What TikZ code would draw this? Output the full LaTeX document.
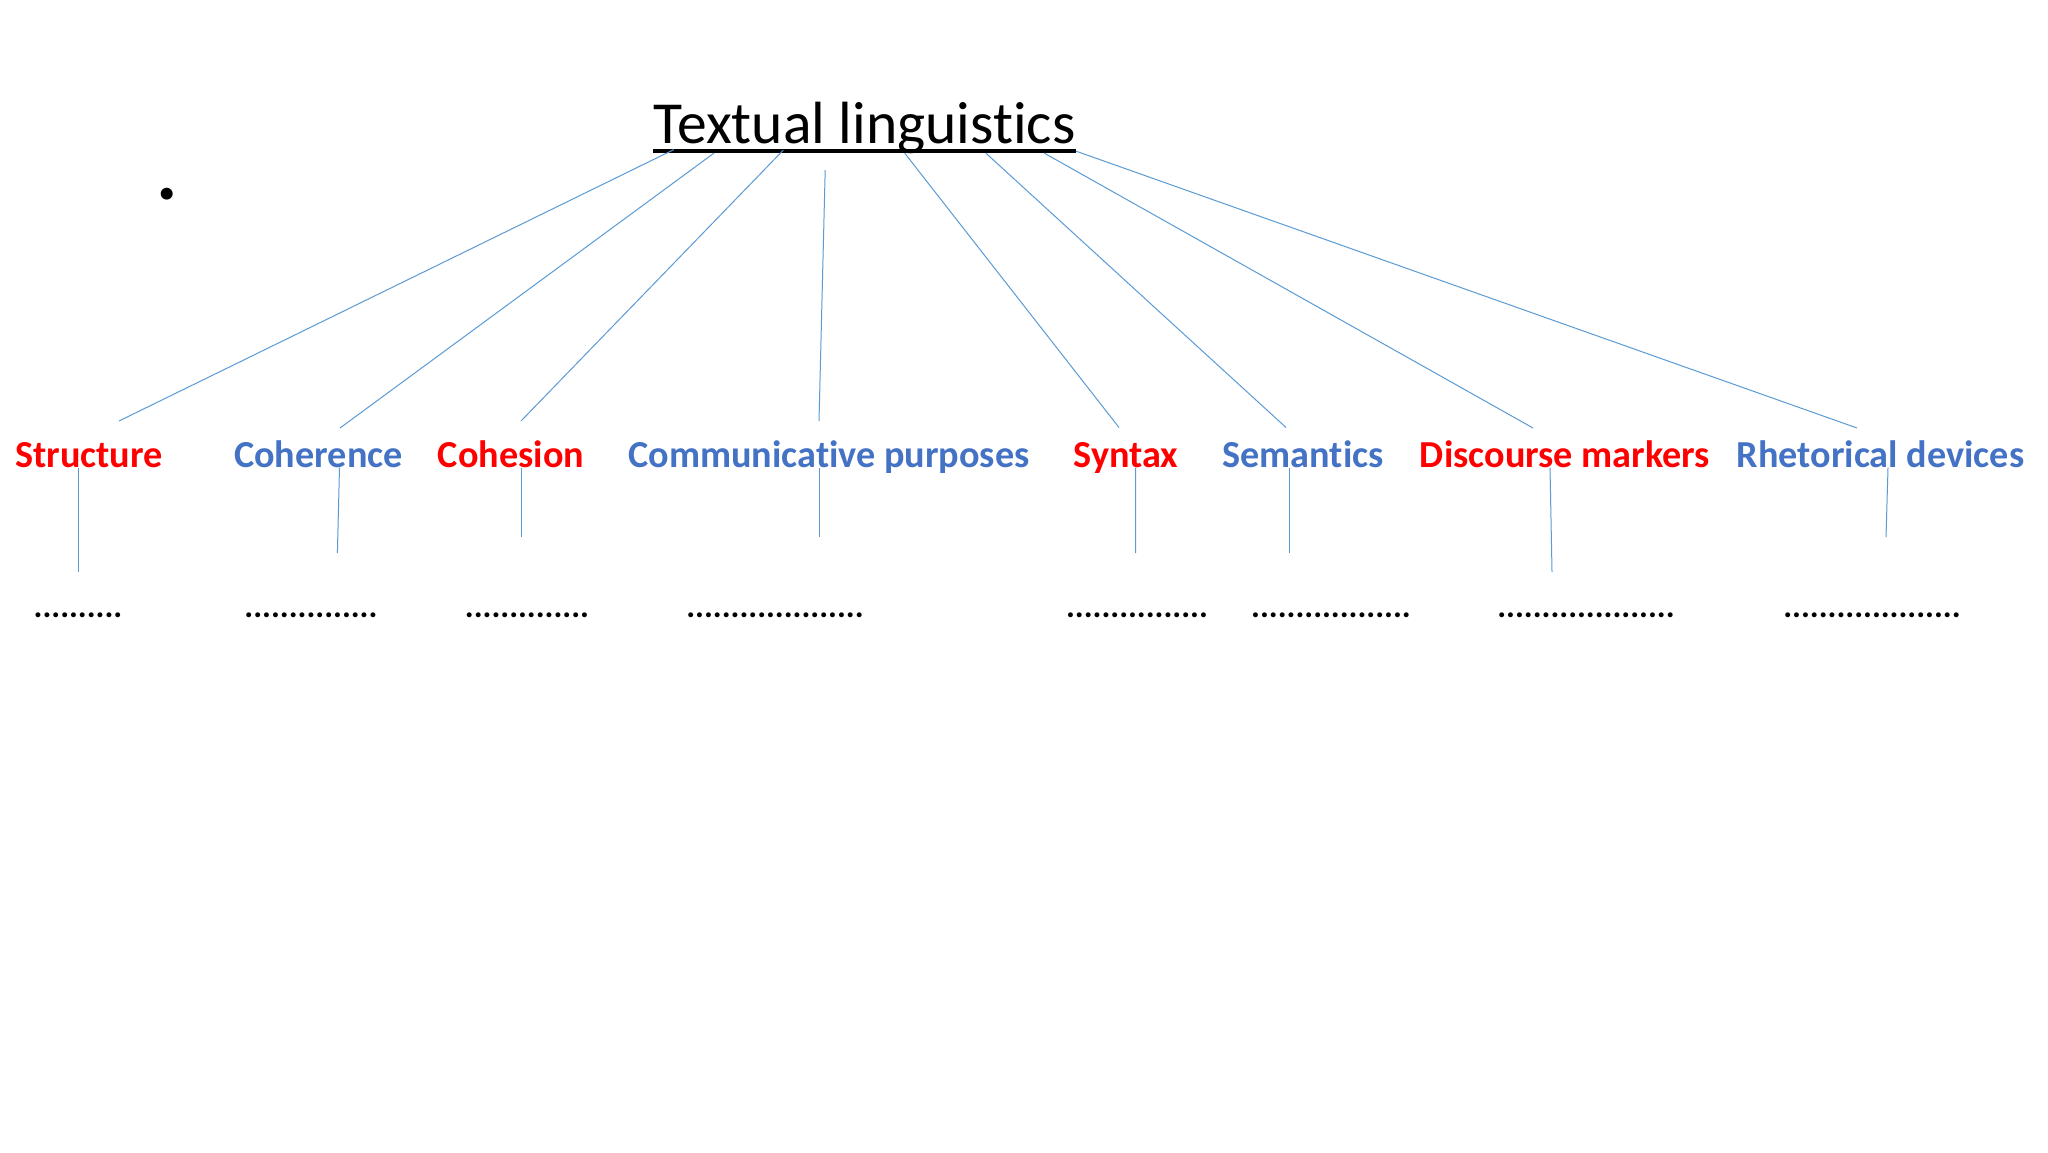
\documentclass[tikz,border=0pt]{standalone}
\usepackage{fontspec}
\setmainfont{Carlito}[Ligatures=NoCommon]
\usetikzlibrary{calc}
\definecolor{tlred}{RGB}{255,0,0}
\definecolor{tlblue}{RGB}{68,114,196}
\definecolor{tlline}{RGB}{91,155,213}
\tikzset{
  heading/.style={font=\fontsize{29.8}{34}\selectfont, inner sep=0pt, anchor=base},
  topic/.style={font=\fontsize{19.1}{22}\selectfont\bfseries, inner sep=0pt, anchor=base},
  redtopic/.style={topic, text=tlred},
  bluetopic/.style={topic, text=tlblue},
  blank/.style={font=\fontsize{16.6}{20}\selectfont\bfseries, inner sep=0pt, anchor=base},
  link/.style={draw=tlline, line width=0.5pt}
}

\begin{document}
\begin{tikzpicture}[x=0.5pt,y=-0.5pt]
\fill[white] (0,0) rectangle (2048,1152);

% title
\node[heading] (tl) at (864.5,143.6) {Textual linguistics};
\draw[line width=2pt] ($(tl.base west)+(0,7.5)$) -- ($(tl.base east)+(0,7.5)$);
\node[heading, font=\fontsize{40}{44}\selectfont\bfseries, anchor=center] (stray) at (167,194) {.};

% topics
\node[redtopic] (structure) at (89,467.5) {Structure};
\node[bluetopic] (coherence) at (318.5,467.5) {Coherence};
\node[redtopic] (cohesion) at (511,467.5) {Cohesion};
\node[bluetopic] (purposes) at (829,467.5) {Communicative purposes};
\node[redtopic] (syntax) at (1126,467.5) {Syntax};
\node[bluetopic] (semantics) at (1303,467.5) {Semantics};
\node[redtopic] (markers) at (1565,467.5) {Discourse markers};
\node[bluetopic] (devices) at (1880.5,467.5) {Rhetorical devices};

% blanks to fill in
\node[blank] (structure-dots) at (78,617) {..........};
\node[blank] (coherence-dots) at (311,617) {...............};
\node[blank] (cohesion-dots) at (527,617) {..............};
\node[blank] (purposes-dots) at (775,617) {....................};
\node[blank] (syntax-dots) at (1137,617) {................};
\node[blank] (semantics-dots) at (1331,617) {..................};
\node[blank] (markers-dots) at (1586,617) {....................};
\node[blank] (devices-dots) at (1872,617) {....................};

% title to topics
\draw[link] ($(tl.base west)!0.049!(tl.base east)+(0,6)$) -- ($(structure.base)+(30,-46.5)$);
\draw[link] ($(tl.base west)!0.144!(tl.base east)+(0,9.5)$) -- ($(coherence.base)+(21.5,-39.5)$);
\draw[link] ($(tl.base west)!0.308!(tl.base east)+(0,6.5)$) -- ($(cohesion.base)+(10,-46.5)$);
\draw[link] ($(tl.base west)!0.407!(tl.base east)+(0,26.5)$) -- ($(purposes.base)+(-10,-46.5)$);
\draw[link] ($(tl.base west)!0.595!(tl.base east)+(0,9.5)$) -- ($(syntax.base)+(-7,-40)$);
\draw[link] ($(tl.base west)!0.787!(tl.base east)+(0,9.5)$) -- ($(semantics.base)+(-17,-40)$);
\draw[link] ($(tl.base west)!0.925!(tl.base east)+(0,9.5)$) -- ($(markers.base)+(-32,-39.5)$);
\draw[link] ($(tl.base west)!1.0!(tl.base east)+(0,7.5)$) -- ($(devices.base)+(-23.5,-39.5)$);

% topics to blanks
\draw[link] ($(structure.base)+(-10.4,0)$) -- ($(structure-dots.base)+(0.6,-45)$);
\draw[link] ($(coherence.base)+(21,0)$) -- ($(coherence-dots.base)+(26.4,-64)$);
\draw[link] ($(cohesion.base)+(10,0)$) -- ($(cohesion-dots.base)+(-6,-80)$);
\draw[link] ($(purposes.base)+(-10,0)$) -- ($(purposes-dots.base)+(44,-80)$);
\draw[link] ($(syntax.base)+(9.7,0)$) -- ($(syntax-dots.base)+(-1.3,-64)$);
\draw[link] ($(semantics.base)+(-14,0)$) -- ($(semantics-dots.base)+(-42,-64)$);
\draw[link] ($(markers.base)+(-15,0)$) -- ($(markers-dots.base)+(-34,-45)$);
\draw[link] ($(devices.base)+(7.5,0)$) -- ($(devices-dots.base)+(14,-80)$);
\end{tikzpicture}
\end{document}
